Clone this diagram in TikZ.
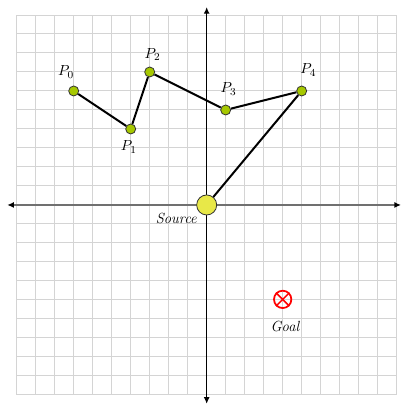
\documentclass[tikz,border=0pt]{standalone}
\usetikzlibrary{arrows.meta}
\definecolor{ptgreen}{RGB}{166,200,0}
\definecolor{srcyellow}{RGB}{232,232,72}
\definecolor{gridgray}{RGB}{212,212,212}
\definecolor{axisgray}{RGB}{112,112,112}
\tikzset{
  gridline/.style={gridgray, line width=0.75pt},
  pt/.style={circle, draw=black!80, fill=ptgreen, line width=0.6pt, inner sep=0pt, minimum size=7.5pt},
  srcpt/.style={circle, draw=black!80, fill=srcyellow, line width=0.6pt, inner sep=0pt, minimum size=15pt},
  path/.style={black, line width=1.5pt},
  lbl/.style={inner sep=0pt, font=\fontsize{11}{13}\selectfont},
}
\begin{document}
\begin{tikzpicture}[x=0.5cm,y=0.5cm]
\useasboundingbox[fill=white] (-10.88,-10.53) rectangle (10.23,10.79);
\draw[gridline, step=0.5cm] (-10,-10) grid (10,10);
% axes
\coordinate (xl) at (-10.5,0);
\coordinate (xr) at (10.23,0);
\coordinate (yt) at (0,10.42);
\coordinate (yb) at (0,-10.47);
\draw[axisgray, line width=1.5pt, {Latex[length=5pt,width=4.5pt,black]}-{Latex[length=5pt,width=4.5pt,black]}] (xl) -- (xr);
\draw[black, line width=1pt, {Latex[length=5pt,width=4.5pt]}-{Latex[length=5pt,width=4.5pt]}] (yb) -- (yt);
% points
\node[pt] (P0) at (-7,6) {};
\node[pt] (P1) at (-4,4) {};
\node[pt] (P2) at (-3,7) {};
\node[pt] (P3) at (1,5) {};
\node[pt] (P4) at (5,6) {};
\node[srcpt] (S) at (0,0) {};
\draw[path] (P0) -- (P1) -- (P2) -- (P3) -- (P4) -- (S);
% labels
\node[lbl] (L0) at (-7.4,7.0) {$P_0$};
\node[lbl] (L1) at (-4.1,3.05) {$P_1$};
\node[lbl] (L2) at (-2.85,7.9) {$P_2$};
\node[lbl] (L3) at (1.15,6.1) {$P_3$};
\node[lbl] (L4) at (5.35,7.1) {$P_4$};
\node[lbl] (LS) at (-1.6,-0.7) {\itshape Source};
% goal
\node[circle, draw=red, line width=1.3pt, minimum size=13pt, inner sep=0pt] (G) at (4,-4.97) {};
\draw[red, line width=1.1pt] ([shift={(-45:0.5)}]G.center) -- ([shift={(135:0.5)}]G.center);
\draw[red, line width=1.1pt] ([shift={(45:0.5)}]G.center) -- ([shift={(-135:0.5)}]G.center);
\node[lbl] (LG) at (4.12,-6.4) {\itshape Goal};
\end{tikzpicture}
\end{document}
